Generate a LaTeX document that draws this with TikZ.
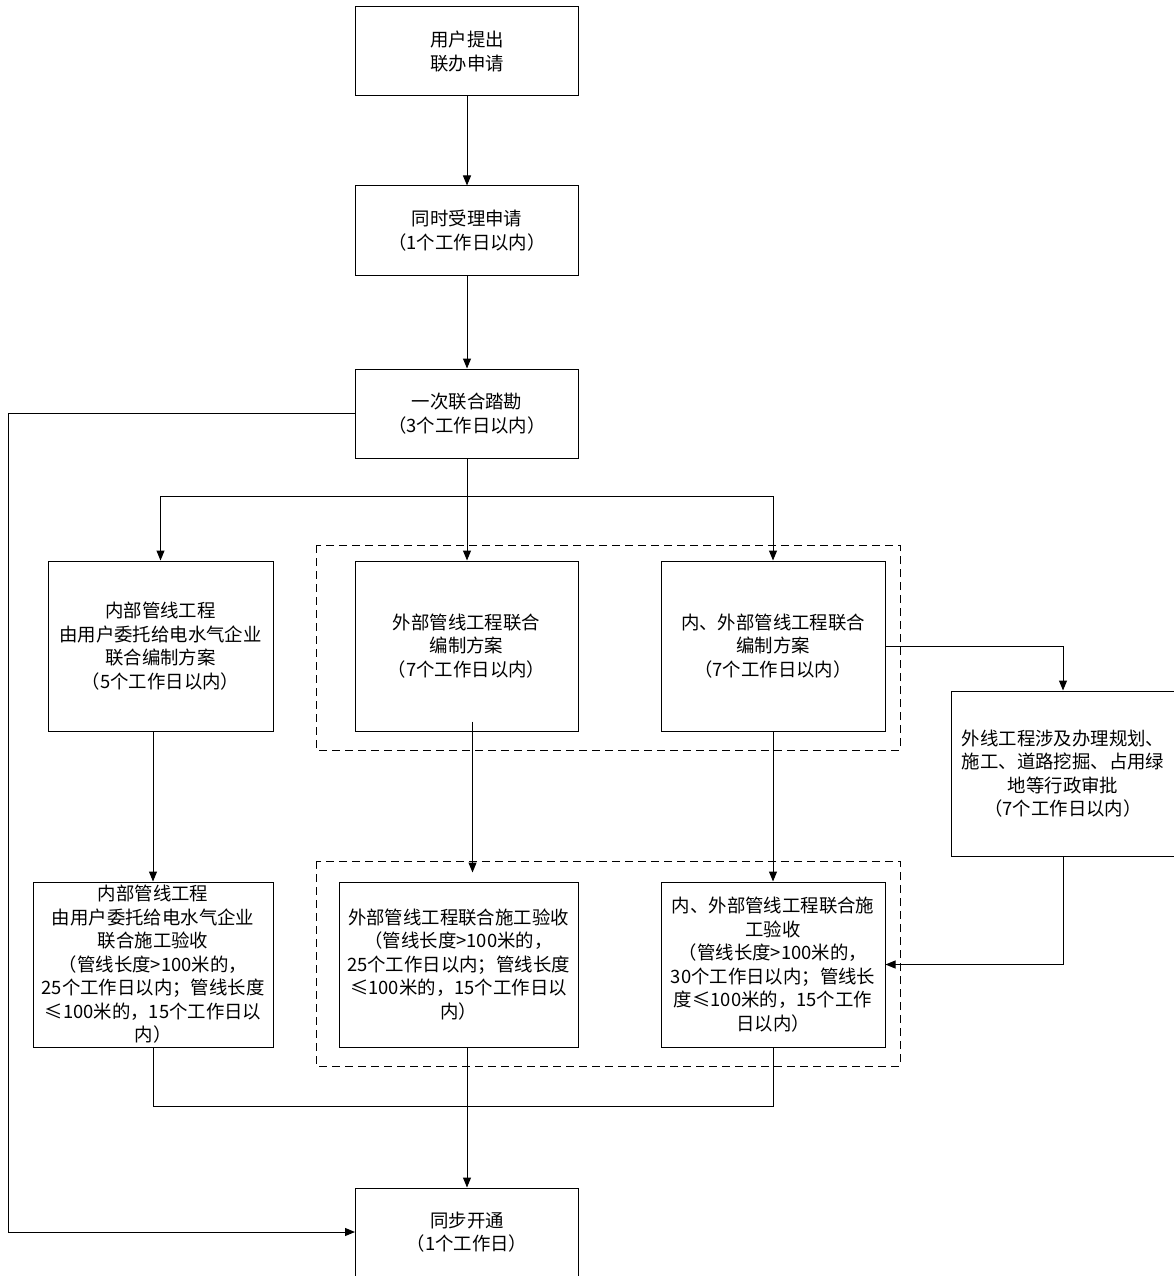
\documentclass[tikz,border=0pt]{standalone}
\usepackage{fontspec}
\setmainfont{Noto Sans CJK SC}
\usetikzlibrary{arrows.meta}

\begin{document}
\begin{tikzpicture}[x=1pt,y=-1pt,
	box/.style={draw,line width=1pt,align=center,inner sep=0pt,font=\fontsize{18.4pt}{23.5pt}\selectfont},
	group/.style={line width=1pt,dash pattern=on 8pt off 5pt},
	link/.style={line width=1pt},
	arr/.style={link,-{Triangle[length=10pt,width=8pt]}}]
	\useasboundingbox (0,0) rectangle (1174,1276);
	% steps
	\node[box,minimum width=223pt,minimum height=89pt] (apply) at (467,51.5) {用户提出\\联办申请};
	\node[box,minimum width=223pt,minimum height=89pt] (accept) at (467,230.5) {同时受理申请\\（1个工作日以内）};
	\node[box,minimum width=223pt,minimum height=89pt] (survey) at (467,413.5) {一次联合踏勘\\（3个工作日以内）};
	\node[box,minimum width=225pt,minimum height=170pt] (inplan) at (160.5,646) {内部管线工程\\由用户委托给电水气企业\\联合编制方案\\（5个工作日以内）};
	\node[box,minimum width=223pt,minimum height=170pt] (outplan) at (466.5,646) {外部管线工程联合\\编制方案\\（7个工作日以内）};
	\node[box,minimum width=224pt,minimum height=170pt] (bothplan) at (773,646) {内、外部管线工程联合\\编制方案\\（7个工作日以内）};
	\node[box,minimum width=224pt,minimum height=165pt] (admin) at (1063,773.5) {外线工程涉及办理规划、\\施工、道路挖掘、占用绿\\地等行政审批\\（7个工作日以内）};
	\node[box,minimum width=240pt,minimum height=165pt] (incheck) at (153,964.5) {内部管线工程\\由用户委托给电水气企业\\联合施工验收\\（管线长度>100米的，\\25个工作日以内；管线长度\\≤100米的，15个工作日以\\内）};
	\node[box,minimum width=239pt,minimum height=165pt] (outcheck) at (458.5,964.5) {外部管线工程联合施工验收\\（管线长度>100米的，\\25个工作日以内；管线长度\\≤100米的，15个工作日以\\内）};
	\node[box,minimum width=224pt,minimum height=165pt] (bothcheck) at (773,964.5) {内、外部管线工程联合施\\工验收\\（管线长度>100米的，\\30个工作日以内；管线长\\度≤100米的，15个工作\\日以内）};
	\node[box,minimum width=223pt,minimum height=88pt] (open) at (467,1232) {同步开通\\（1个工作日）};
	% dashed groups
	\draw[group] (316,545) rectangle (900,750);
	\draw[group] (316,861) rectangle (900,1066);
	% connectors
	\coordinate (split) at (467,496);
	\coordinate (merge) at (467,1106);
	\draw[arr] (apply) -- (accept);
	\draw[arr] (accept) -- (survey);
	\draw[arr] (survey.south) -- (survey.south |- outplan.north);
	\draw[arr] (split) -| (inplan.north);
	\draw[arr] (split) -| (bothplan.north);
	\draw[arr] (survey.west) -- ++(-347,0) |- (open.west);
	\draw[arr] (incheck.north |- inplan.south) -- (incheck.north);
	\draw[arr] ([xshift=6pt,yshift=10pt]outplan.south) -- ++(0,151);
	\draw[arr] (bothplan.south) -- (bothcheck.north);
	\draw[arr] (bothplan.east) -| (admin.north);
	\draw[arr] (admin.south) |- (bothcheck.east);
	\draw[link] (incheck.south) |- (merge) -| (bothcheck.south);
	\draw[arr] (merge |- outcheck.south) -- (open.north);
\end{tikzpicture}
\end{document}
